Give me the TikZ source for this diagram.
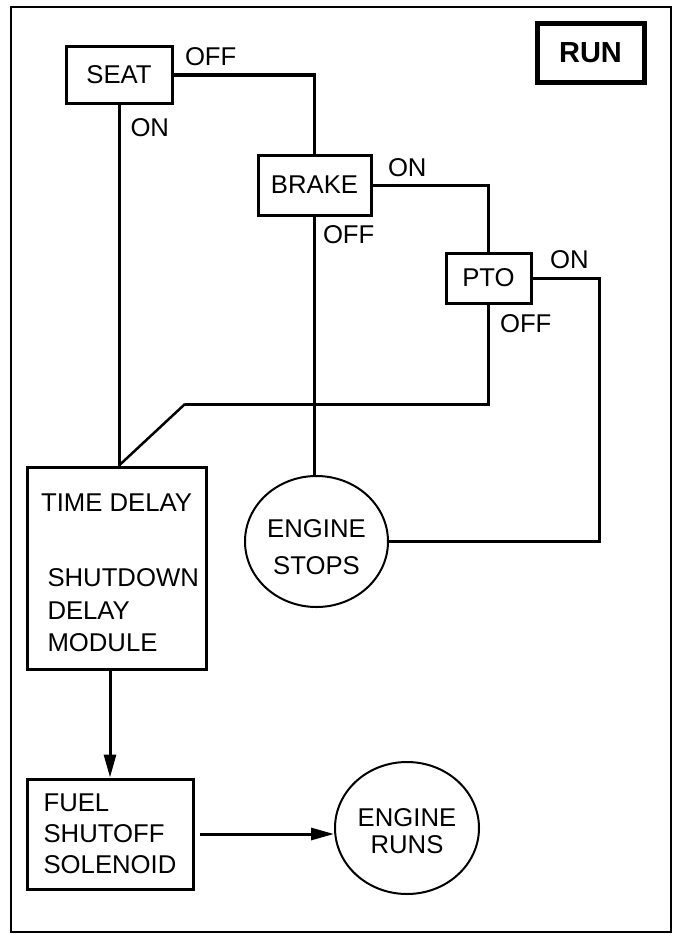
\documentclass[tikz,border=0pt]{standalone}
\usepackage{fontspec}
\setmainfont{Liberation Sans}
\usetikzlibrary{positioning, arrows.meta, shapes.geometric}

\begin{document}
\begin{tikzpicture}[x=1pt,y=-1pt,line width=3pt,>={Triangle[length=23pt,width=12pt]},
    font=\fontsize{25.7}{31}\selectfont,
    box/.style={draw,rectangle,inner sep=0pt},
    oval/.style={draw,ellipse,line width=2pt,inner sep=0pt,align=center},
    tag/.style={inner sep=0pt}]
    \useasboundingbox (0,0) rectangle (679,934);
    \draw[line width=2pt] (11,7) rectangle (671,932);

    \node[box,line width=5pt,minimum width=107,minimum height=58,font=\fontsize{29}{35}\selectfont\bfseries] (run) at (590.5,53) {RUN};
    \node[box,minimum width=106,minimum height=56] (seat) at (119,75) {SEAT};
    \node[box,minimum width=113,minimum height=60] (brake) at (314.5,185) {BRAKE};
    \node[box,minimum width=85,minimum height=50] (pto) at (488.5,278) {PTO};
    \node[box,minimum width=179,minimum height=202] (delay) at (116.5,568) {};
    \node[tag] (title) at (116.5,503) {TIME DELAY};
    \node[tag,align=left,anchor=west,font=\fontsize{25.7}{32.5}\selectfont] (module) at (46,610.5) {SHUTDOWN\\DELAY\\MODULE};
    \node[box,minimum width=166,minimum height=110,align=left] (fuel) at (110,834) {FUEL\\SHUTOFF\\SOLENOID};
    \node[oval,minimum width=143,minimum height=131,text height=67pt,font=\fontsize{25.7}{37}\selectfont] (stops) at (316.5,541.5) {ENGINE\\STOPS};
    \node[oval,minimum width=144,minimum height=132,text height=51pt,font=\fontsize{25.7}{27}\selectfont] (runs) at (407,828) {ENGINE\\RUNS};

    \node[tag] (seatoff) [above right=8pt and 10pt of seat.east] {OFF};
    \node[tag] (seaton) [below right=13pt and 10pt of seat.south] {ON};
    \node[tag] (brakeon) [above right=7pt and 14pt of brake.east] {ON};
    \node[tag] (brakeoff) [below right=8pt and 7pt of brake.south] {OFF};
    \node[tag] (ptoon) [above right=8pt and 16pt of pto.east] {ON};
    \node[tag] (ptooff) [below right=9pt and 10pt of pto.south] {OFF};

    \coordinate (join) at (seat.south |- delay.north);
    \coordinate (bend) at (185,404);

    \draw (seat.east) -| (brake.north);
    \draw (seat.south) -- (join);
    \draw (brake.east) -| (pto.north);
    \draw (brake.south) -- (brake.south |- stops.north);
    \draw (pto.east) -- ++(67,0) |- (stops.east);
    \draw (pto.south) |- (bend);
    \draw[line width=2.5pt] (bend) -- (join);
    \draw[->] (delay.south -| fuel.north) -- (fuel.north);
    \draw[->,shorten <=5pt] (fuel.east) -- (fuel.east -| runs.west);
\end{tikzpicture}
\end{document}
